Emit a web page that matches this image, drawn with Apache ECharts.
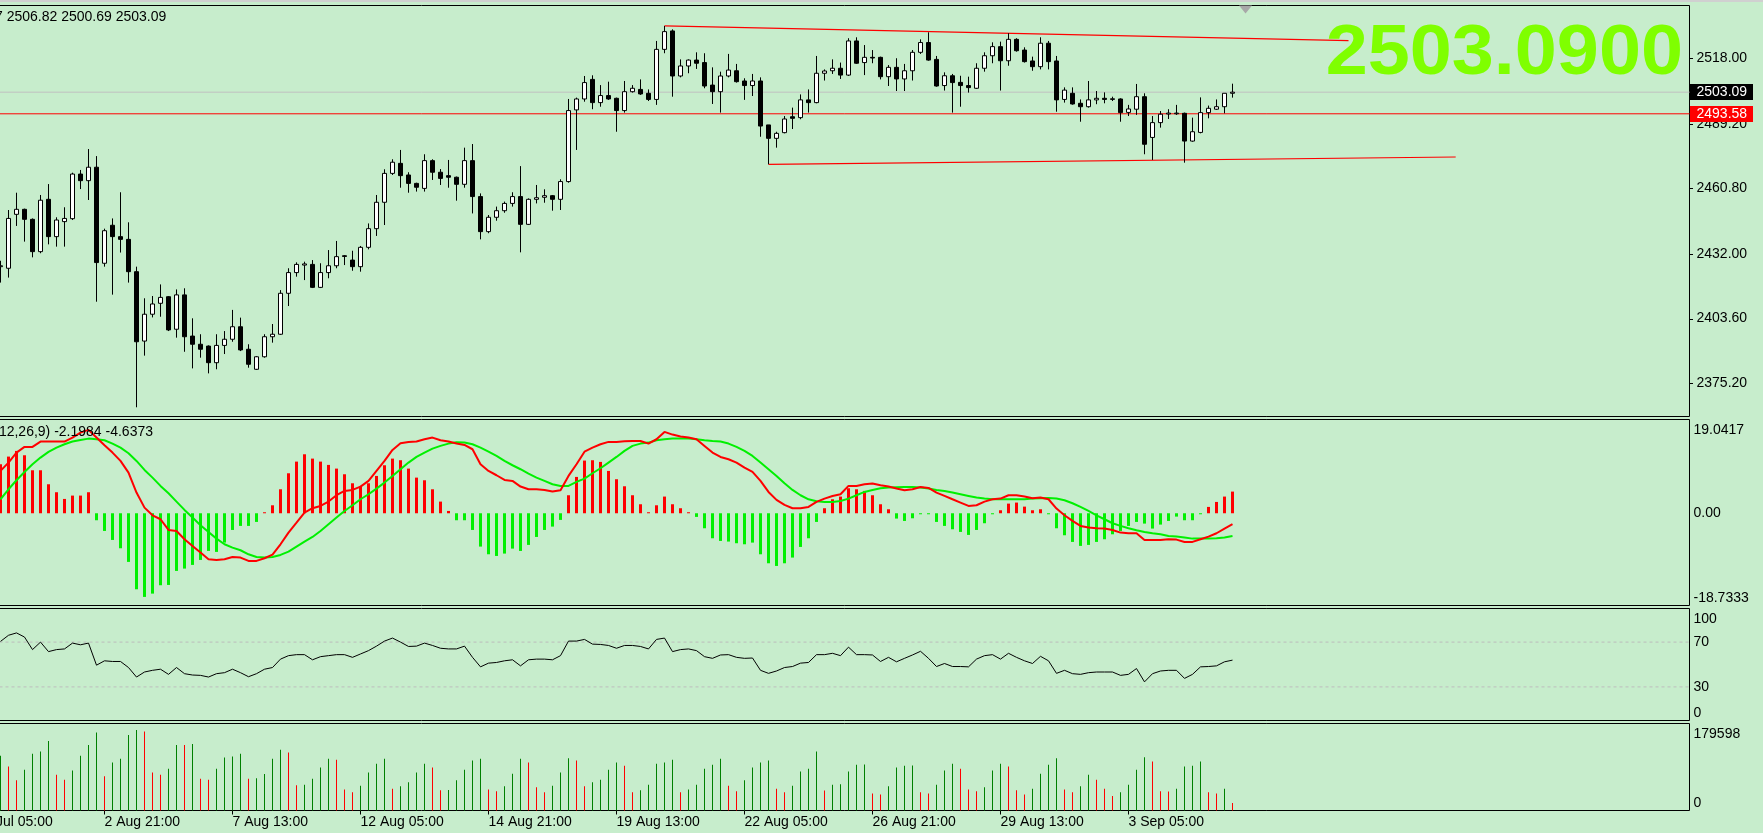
<!DOCTYPE html>
<html><head><meta charset="utf-8">
<script src="https://cdn.jsdelivr.net/npm/echarts@6.0.0/dist/echarts.min.js"></script>
<style>html,body{margin:0;padding:0;background:#C7EDCC;overflow:hidden}#c{width:1763px;height:833px}</style>
</head><body><div id="c"></div>
<script>
// ---------- DATA ----------
const opens = [2426.4,2425.7,2449.4,2451.6,2447.2,2433.0,2456.0,2439.6,2446.2,2447.5,
2467.1,2464.2,2470.1,2427.9,2444.6,2439.6,2438.4,2424.2,2393.7,2405.5,
2410.3,2413.2,2398.9,2414.0,2395.9,2392.3,2391.5,2384.2,2391.8,2394.5,
2400.0,2390.1,2381.3,2386.8,2395.6,2396.7,2414.7,2423.8,2427.1,2427.4,
2417.3,2423.8,2426.8,2431.2,2429.3,2426.4,2434.9,2443.1,2454.7,2467.4,
2471.8,2466.7,2463.0,2460.8,2473.0,2467.9,2466.4,2465.7,2462.6,2473.0,
2457.2,2441.8,2448.1,2451.0,2454.2,2457.2,2445.0,2456.0,2456.9,2457.6,
2456.0,2463.8,2495.3,2500.1,2508.7,2498.5,2501.6,2500.4,2495.0,2503.3,
2504.3,2502.6,2499.9,2521.9,2530.0,2510.2,2514.6,2517.2,2516.1,2506.2,
2503.3,2510.2,2512.5,2508.0,2506.0,2508.0,2488.7,2482.8,2485.3,2492.3,
2491.9,2499.7,2498.5,2511.4,2512.5,2513.6,2510.6,2525.6,2516.1,2518.4,
2518.4,2509.9,2514.0,2508.9,2512.5,2520.6,2524.9,2517.5,2506.0,2510.3,
2507.4,2506.0,2504.8,2513.6,2519.1,2523.1,2516.9,2526.3,2521.6,2516.8,
2514.3,2524.6,2516.8,2499.9,2502.6,2498.2,2496.7,2499.7,2500.4,2499.9,
2500.1,2494.2,2495.6,2501.1,2483.2,2489.7,2493.5,2493.6,2493.8,2481.6,
2485.4,2494.1,2495.6,2496.7,2502.6];
const closes = [2426.8,2447.6,2451.6,2447.2,2433.0,2455.6,2439.6,2446.9,2447.6,2467.1,
2464.2,2470.1,2428.2,2442.2,2439.6,2438.4,2424.2,2393.4,2405.5,2410.0,
2412.9,2398.6,2414.0,2395.6,2392.3,2390.1,2384.2,2391.8,2394.5,2400.0,
2389.8,2383.5,2386.8,2395.6,2396.7,2414.7,2423.8,2427.4,2427.6,2417.3,
2423.8,2426.8,2430.8,2430.9,2426.4,2434.9,2443.1,2454.7,2467.4,2472.3,
2466.4,2463.0,2461.3,2473.0,2467.9,2465.2,2465.7,2462.6,2473.0,2457.2,
2441.8,2448.1,2451.0,2454.2,2457.2,2445.0,2456.0,2456.7,2457.6,2456.0,
2463.8,2495.0,2500.1,2507.3,2498.5,2501.6,2500.1,2495.0,2503.3,2504.8,
2502.3,2499.9,2521.9,2529.7,2510.2,2514.6,2517.2,2515.8,2505.8,2503.3,
2510.2,2512.8,2507.7,2506.0,2508.0,2488.2,2482.8,2485.0,2491.3,2491.6,
2499.7,2498.5,2511.4,2512.4,2513.6,2510.6,2525.6,2515.8,2518.4,2518.1,
2509.9,2514.0,2508.9,2512.5,2520.6,2524.9,2517.2,2505.8,2510.3,2507.3,
2506.0,2505.1,2513.6,2519.1,2523.1,2516.9,2526.3,2521.3,2516.5,2514.3,
2524.6,2516.5,2499.7,2504.0,2497.9,2496.7,2499.7,2500.4,2499.9,2500.2,
2494.1,2495.7,2501.1,2480.2,2489.7,2493.4,2493.9,2493.9,2481.6,2485.7,
2494.1,2496.0,2496.7,2502.6,2503.09];
const lows = [2419.4,2421.6,2444.3,2437.4,2430.5,2432.3,2436.2,2435.2,2435.2,2446.9,
2460.5,2455.7,2411.0,2426.4,2414.1,2432.6,2419.4,2364.6,2387.3,2404.1,
2404.4,2398.1,2395.2,2389.0,2381.7,2386.4,2379.5,2381.3,2388.0,2393.4,
2389.3,2382.0,2381.0,2386.4,2393.0,2396.4,2409.1,2422.0,2420.5,2417.0,
2417.0,2421.3,2425.7,2427.1,2424.6,2424.2,2434.0,2439.9,2444.7,2466.7,
2461.1,2458.9,2459.4,2459.4,2464.5,2462.3,2461.1,2455.4,2461.1,2449.8,
2438.4,2441.1,2446.6,2450.1,2452.8,2432.7,2444.7,2454.2,2454.5,2451.0,
2451.3,2463.3,2477.7,2498.9,2495.6,2496.7,2499.7,2485.7,2494.1,2502.9,
2501.9,2499.2,2497.5,2520.2,2501.1,2509.6,2511.4,2513.3,2504.8,2497.9,
2494.1,2509.6,2507.3,2499.7,2501.4,2483.5,2471.4,2478.7,2485.0,2486.9,
2491.2,2494.1,2498.2,2508.2,2511.1,2508.9,2510.2,2515.5,2510.6,2515.8,
2508.7,2505.8,2503.6,2503.6,2508.2,2519.9,2516.9,2505.5,2503.8,2494.1,
2496.7,2502.9,2504.5,2512.1,2515.8,2503.8,2514.7,2520.9,2516.1,2512.5,
2513.1,2513.1,2494.5,2498.5,2497.6,2490.1,2496.3,2497.8,2498.2,2499.2,
2490.1,2492.6,2493.1,2475.8,2473.3,2487.5,2491.3,2493.1,2472.1,2481.3,
2485.0,2491.6,2495.3,2493.8,2500.69];
const highs = [2429.0,2451.3,2458.9,2451.9,2447.6,2457.9,2462.7,2448.1,2452.5,2467.7,
2468.9,2478.1,2475.0,2443.1,2447.6,2459.1,2445.9,2426.4,2412.5,2413.5,
2418.6,2413.5,2416.4,2416.9,2403.7,2396.7,2391.8,2396.7,2398.1,2407.4,
2404.0,2392.3,2387.1,2396.7,2401.2,2416.1,2425.7,2428.3,2428.6,2429.3,
2427.9,2433.7,2437.7,2431.5,2433.4,2435.5,2445.4,2457.9,2469.2,2473.6,
2477.7,2467.9,2463.3,2475.8,2473.6,2469.3,2473.3,2466.0,2478.7,2480.3,
2458.6,2449.1,2452.8,2455.0,2459.1,2470.6,2456.4,2462.3,2460.4,2457.9,
2464.8,2500.1,2500.7,2510.2,2510.5,2506.2,2507.7,2500.7,2508.0,2506.2,
2508.7,2504.3,2525.6,2532.2,2530.7,2517.5,2517.5,2520.6,2520.2,2514.0,
2512.1,2519.9,2515.5,2509.2,2511.1,2509.6,2488.7,2485.7,2492.6,2496.3,
2502.1,2504.3,2519.0,2513.1,2517.5,2516.1,2526.8,2527.2,2523.8,2521.6,
2518.7,2515.0,2518.0,2515.5,2521.6,2526.3,2529.4,2519.0,2511.8,2511.1,
2510.3,2509.9,2515.8,2520.6,2525.0,2525.3,2529.0,2526.8,2522.8,2518.7,
2527.2,2525.6,2519.0,2505.2,2505.2,2499.9,2508.0,2503.6,2503.0,2501.1,
2500.4,2497.5,2506.7,2502.6,2492.6,2494.8,2495.6,2497.5,2494.1,2491.9,
2500.8,2497.2,2499.9,2502.6,2506.82];

const macdHist = [9.95,11.51,12.66,11.78,8.73,8.73,5.89,4.27,2.91,3.59,
3.59,4.27,-1.42,-3.59,-5.42,-7.11,-9.88,-15.44,-16.99,-16.32,
-14.62,-14.56,-11.71,-11.24,-10.49,-9.48,-7.65,-7.85,-5.96,-3.39,
-2.57,-2.57,-1.76,0.14,1.62,4.87,8.12,10.49,11.98,11.10,
10.49,9.82,9.07,7.92,6.09,5.55,6.09,7.58,9.75,11.10,
10.77,9.07,7.24,6.70,4.87,2.37,0.47,-1.42,-1.42,-3.39,
-6.77,-8.33,-8.67,-8.19,-7.18,-7.65,-6.43,-4.81,-3.39,-2.71,
-1.35,3.66,7.38,10.70,10.77,10.43,8.60,6.91,5.48,3.66,
1.83,0.10,1.62,3.39,1.83,1.02,0.10,-0.74,-3.05,-5.08,
-5.62,-5.75,-6.09,-6.30,-5.96,-8.33,-10.16,-10.70,-10.16,-9.00,
-6.84,-5.08,-1.76,1.02,2.84,3.39,5.08,4.87,4.54,3.66,
1.83,0.81,-1.08,-1.56,-1.02,-0.10,-0.10,-1.76,-2.57,-3.25,
-3.79,-4.40,-3.39,-2.03,-0.10,0.61,1.96,2.17,1.35,0.61,
0.81,-0.10,-3.05,-4.47,-5.82,-6.63,-6.43,-5.82,-5.28,-4.27,
-3.59,-2.57,-1.76,-2.10,-3.11,-2.30,-1.56,-0.68,-1.42,-1.42,
-0.10,1.29,2.30,3.39,4.40];
const macdMain = [8.60,10.29,12.32,13.47,13.47,14.56,14.56,14.56,14.56,15.37,
16.38,16.93,15.37,13.81,12.32,10.63,8.26,4.20,1.15,-0.41,
-1.22,-3.39,-3.59,-5.28,-6.63,-7.99,-9.34,-9.48,-9.34,-8.87,
-9.00,-9.68,-9.68,-9.14,-8.39,-6.30,-3.93,-1.90,0.14,1.02,
1.49,2.37,3.66,4.54,4.74,5.42,6.57,8.60,10.63,12.86,
14.22,14.49,14.56,15.03,15.37,14.83,14.56,14.15,13.88,13.00,
9.95,8.60,7.72,6.77,6.57,5.42,4.87,4.87,4.74,4.40,
4.67,7.58,9.95,12.50,13.34,14.01,14.49,14.49,14.62,14.69,
14.69,14.15,15.03,16.52,15.98,15.57,15.37,15.03,13.68,12.32,
11.44,10.97,10.29,9.27,8.39,6.57,4.33,2.71,1.69,1.02,
1.02,1.29,2.30,2.98,3.52,3.86,5.55,5.55,5.89,6.03,
5.69,5.42,5.01,4.67,4.87,5.35,5.15,4.20,3.52,2.84,
2.17,1.49,1.62,2.37,2.84,2.98,3.66,3.66,3.39,3.05,
3.18,2.84,0.95,-0.41,-1.56,-2.57,-2.91,-3.05,-3.11,-3.39,
-3.93,-4.06,-4.06,-5.42,-5.42,-5.42,-5.28,-5.35,-5.82,-5.82,
-5.28,-4.74,-4.06,-3.11,-2.1984];
const macdSignal = [2.84,4.87,6.70,8.39,9.95,11.31,12.46,13.34,14.01,14.56,
14.89,15.16,15.03,14.83,14.15,13.34,12.19,10.63,8.80,7.24,
5.55,4.06,2.37,0.68,-0.88,-2.44,-3.79,-5.15,-6.30,-6.97,
-7.51,-8.33,-8.87,-9.00,-8.87,-8.46,-7.79,-6.77,-5.75,-4.81,
-3.59,-2.23,-0.88,0.47,1.62,2.84,3.86,5.01,6.23,7.58,
8.94,10.29,11.44,12.32,13.13,13.68,14.15,14.42,14.35,14.01,
13.34,12.52,11.64,10.63,9.75,8.94,8.06,7.24,6.57,5.89,
5.55,5.55,6.36,7.04,8.12,9.14,10.29,11.44,12.66,13.68,
14.15,14.35,14.83,15.03,15.16,15.16,15.16,15.03,14.83,14.69,
14.56,14.15,13.47,12.66,11.64,10.29,8.94,7.58,6.09,4.74,
3.66,2.84,2.44,2.30,2.30,2.50,2.98,3.66,4.33,4.74,
5.08,5.21,5.28,5.35,5.35,5.21,5.01,4.74,4.54,4.20,
3.86,3.52,3.18,2.98,2.84,2.84,2.84,2.84,2.84,2.98,
3.05,3.11,2.98,2.64,2.03,1.29,0.47,-0.41,-1.22,-2.03,
-2.57,-3.05,-3.45,-3.79,-4.06,-4.27,-4.60,-4.74,-4.94,-5.15,
-5.15,-5.15,-5.08,-4.94,-4.6373];
const rsi = [70.6,76.1,78.2,74.5,63.3,70.0,61.5,63.3,63.9,69.1,
67.6,69.1,49.4,53.3,52.7,52.7,47.3,38.8,43.3,44.8,
45.8,41.2,47.3,41.8,40.6,40.3,38.8,41.8,42.7,45.8,
42.7,39.1,41.8,45.8,47.3,54.8,57.9,58.8,58.8,54.2,
57.0,57.9,58.8,58.8,56.4,59.4,62.4,66.4,70.9,73.6,
70.0,66.1,66.4,69.1,67.0,64.5,63.9,63.9,66.4,56.4,
47.9,51.2,51.8,53.3,54.2,48.8,54.2,54.8,54.8,54.2,
57.9,70.9,70.9,72.4,68.2,67.9,67.0,64.5,67.0,67.0,
66.1,63.9,72.4,73.6,61.5,63.3,63.9,62.4,57.0,55.5,
58.5,58.8,56.4,55.5,55.8,44.8,42.1,44.2,47.3,48.2,
51.2,51.8,58.8,58.8,60.0,57.9,65.5,58.8,58.8,58.5,
52.7,56.4,52.4,55.5,58.5,61.8,55.5,48.2,50.9,48.2,
48.2,47.9,54.8,57.9,58.8,54.8,60.0,56.4,53.3,50.9,
57.3,53.3,42.1,44.8,41.8,41.2,42.7,43.3,43.3,43.3,
40.3,41.2,46.4,34.5,41.8,44.2,44.8,44.8,37.6,41.2,
47.9,48.2,48.8,52.4,53.9];
const volumes = [112893,91000,62262,84157,117000,121788,143682,73894,63631,82788,
112893,135472,160787,70473,99209,106735,155998,166261,162840,78683,
73894,86209,135472,135000,137524,65683,63631,86209,109472,111525,
117000,65683,66500,75262,106735,125209,119735,52000,53368,65683,
88946,106735,104683,43105,37631,51315,78683,96472,106735,45157,
49947,58157,78683,96472,88946,41736,42500,62262,84157,103314,
106735,43105,39684,49947,75946,106735,99209,47894,37631,51315,
78683,108104,103314,49947,58157,63631,84157,99209,92367,37631,
41736,53368,96472,99209,104683,37631,43105,53368,86209,94420,
106735,51315,39684,62262,88946,99209,103314,45157,37631,51315,
80736,86209,121788,41052,53368,54000,80736,94420,95000,34894,
32842,49947,88946,92367,93000,37631,34894,53368,82788,96472,
86209,43105,39684,47894,82788,96472,91000,41736,32842,45157,
75946,94420,108104,43105,37631,49947,73894,63631,45157,30000,
37631,53368,84157,110156,101262,39684,39000,45157,91000,92367,
101262,37631,34894,45157,15737];

const xTickIdx = [-3, 13, 29, 45, 61, 77, 93, 109, 125, 141];
const xTickLabels = ['31 Jul 05:00','2 Aug 21:00','7 Aug 13:00','12 Aug 05:00','14 Aug 21:00',
  '19 Aug 13:00','22 Aug 05:00','26 Aug 21:00','29 Aug 13:00','3 Sep 05:00'];
const priceTicks = [2375.20, 2403.60, 2432.00, 2460.80, 2489.20, 2518.00];
const macdTicks = [-18.7333, 0, 19.0417];
const rsiTicks = [0, 30, 70, 100];
const rsiLevels = [30, 70];
const volTicks = [0, 179598];
const bidPrice = 2503.09;
const levelPrice = 2493.58;
const upperLine = [[83, 2532.2], [168.5, 2525.7]];
const lowerLine = [[96, 2471.4], [181.9, 2474.6]];
const headerText = '7 2506.82 2500.69 2503.09';
const macdHeader = 'MACD(12,26,9) -2.1984 -4.6373';

// ---------- CHART ----------
const FONT = '"Liberation Sans", Arial, sans-serif';
const N = opens.length;
const idx = opens.map((_, i) => i);
const XMIN = -3.125, XMAX = 211.125;
const GL = -24.5, GW = 1714;
const panes = [
  {top: 5.5, height: 411},
  {top: 419.5, height: 186},
  {top: 608.5, height: 112},
  {top: 723.5, height: 87}
];
const chart = echarts.init(document.getElementById('c'), null, {renderer: 'canvas', width: 1763, height: 833});

const lbl = {color: '#000', fontSize: 14, fontFamily: FONT};
const grid = panes.map(p => ({left: GL, top: p.top, width: GW, height: p.height, show: true,
  borderColor: '#000', borderWidth: 1, backgroundColor: 'transparent', containLabel: false, outerBoundsMode: 'none'}));
const xAxis = panes.map((p, i) => ({
  type: 'value', gridIndex: i, min: XMIN, max: XMAX, show: i === 3,
  axisLine: {show: false, onZero: false}, splitLine: {show: false},
  axisTick: {show: i === 3, customValues: xTickIdx, length: 4, lineStyle: {color: '#000'}},
  axisLabel: Object.assign({show: i === 3, customValues: xTickIdx, align: 'left', margin: 5,
    formatter: v => xTickLabels[xTickIdx.indexOf(v)] || ''}, lbl)
}));
const yb = (gi, min, max, ticks, fmt, margin) => ({
  type: 'value', gridIndex: gi, position: 'right', min, max,
  splitLine: {show: false}, axisLine: {show: false, onZero: false},
  axisTick: {show: false},
  axisLabel: Object.assign({customValues: ticks, margin,
    formatter: v => (gi > 0 && v === max) ? '{t|' + fmt(v) + '}' : fmt(v),
    rich: {t: {padding: [4, 0, 0, 0], fontSize: 14, fontFamily: FONT, color: '#000'}},
    verticalAlignMinLabel: gi === 0 ? 'middle' : 'bottom', verticalAlignMaxLabel: gi === 0 ? 'middle' : 'top',
    showMinLabel: true, showMaxLabel: true}, lbl)
});
const yAxis = [
  yb(0, 2360.55, 2541.18, priceTicks, v => v.toFixed(2), 7),
  yb(1, macdTicks[0], macdTicks[2], macdTicks, v => v === 0 ? '0.00' : v.toFixed(4), 4),
  yb(2, 0, 100, rsiTicks, v => String(v), 4),
  yb(3, 0, volTicks[1], volTicks, v => String(v), 4)
];

const hline = (xi, yi, v, color, width, type, z) => ({
  type: 'line', xAxisIndex: xi, yAxisIndex: yi, data: [[XMIN, v], [XMAX, v]], symbol: 'none',
  silent: true, lineStyle: {color, width, type: type || 'solid'}, z: z || 2
});

const series = [
  hline(0, 0, bidPrice, '#C0C0C0', 1, null, 1),
  hline(0, 0, levelPrice, '#FF0000', 1, null, 2),
  {type: 'line', xAxisIndex: 0, yAxisIndex: 0, data: upperLine, symbol: 'none', silent: true,
    lineStyle: {color: '#FF0000', width: 1.2}, z: 2},
  {type: 'line', xAxisIndex: 0, yAxisIndex: 0, data: lowerLine, symbol: 'none', silent: true,
    lineStyle: {color: '#FF0000', width: 1.2}, z: 2},
  {type: 'candlestick', xAxisIndex: 0, yAxisIndex: 0,
    data: idx.map(i => [i, opens[i], closes[i], lows[i], highs[i]]),
    encode: {x: 0, y: [1, 2, 3, 4]}, barWidth: 5,
    itemStyle: {color: '#FFFFFF', color0: '#000000', borderColor: '#000000', borderColor0: '#000000',
      borderColorDoji: '#000000', borderWidth: 1}, z: 5},
  {type: 'bar', xAxisIndex: 1, yAxisIndex: 1, data: idx.map(i => [i, macdHist[i]]), barWidth: 3, barMinHeight: 1,
    itemStyle: {color: p => p.value[1] >= 0 ? '#FF0000' : '#00F000'}, z: 2},
  {type: 'line', xAxisIndex: 1, yAxisIndex: 1, data: idx.map(i => [i, macdSignal[i]]), symbol: 'none',
    lineStyle: {color: '#00F000', width: 2}, z: 3},
  {type: 'line', xAxisIndex: 1, yAxisIndex: 1, data: idx.map(i => [i, macdMain[i]]), symbol: 'none',
    lineStyle: {color: '#FF0000', width: 2}, z: 4},
  hline(2, 2, rsiLevels[0], '#BDBDBD', 1, [3, 3], 1),
  hline(2, 2, rsiLevels[1], '#BDBDBD', 1, [3, 3], 1),
  {type: 'line', xAxisIndex: 2, yAxisIndex: 2, data: idx.map(i => [i, rsi[i]]), symbol: 'none',
    lineStyle: {color: '#000000', width: 1}, z: 3},
  {type: 'bar', xAxisIndex: 3, yAxisIndex: 3, data: idx.map(i => [i, volumes[i]]), barWidth: 1,
    itemStyle: {color: p => (p.dataIndex === 0 || volumes[p.dataIndex] > volumes[p.dataIndex - 1]) ? '#008000' : '#FF0000'}, z: 2}
];

chart.setOption({animation: false, backgroundColor: '#C7EDCC', grid, xAxis, yAxis, series});

const yBid = chart.convertToPixel({yAxisIndex: 0}, bidPrice);
const yLvl = chart.convertToPixel({yAxisIndex: 0}, levelPrice);
const txt = (x, y, text, font, fill, align, extra) => Object.assign({type: 'text', x, y, z: 100, silent: true,
  style: {text, font, fill, align: align || 'left', textAlign: align || 'left', verticalAlign: 'middle', textVerticalAlign: 'middle'}}, extra || {});
const box = (y, fill, text) => [
  {type: 'rect', z: 99, silent: true, shape: {x: 1690, y: Math.round(y) - 8, width: 63, height: 16}, style: {fill}},
  txt(1696.5, Math.round(y), text, '14px ' + FONT, '#FFFFFF')
];
const priceTickMarks = priceTicks.map(p => {
  const y = Math.round(chart.convertToPixel({yAxisIndex: 0}, p)) + 0.5;
  return {type: 'line', z: 98, silent: true, shape: {x1: 1690, y1: y, x2: 1693, y2: y}, style: {stroke: '#000', lineWidth: 1}};
});
chart.setOption({graphic: [
  {type: 'rect', z: 100, silent: true, shape: {x: 0, y: 0, width: 1763, height: 2}, style: {fill: '#D0D0D0'}},
  txt(-5, 17, headerText, '14px ' + FONT, '#000'),
  txt(-47, 432, macdHeader, '14px ' + FONT, '#000'),
  txt(1683, 54.5, closes[N - 1].toFixed(4), 'bold 70px ' + FONT, '#7FFF00', 'right', {scaleX: 1.08}),
  {type: 'polygon', z: 100, silent: true, shape: {points: [[1239, 5.5], [1252, 5.5], [1245.5, 13.5]]}, style: {fill: '#A8A8A8'}},
  ...priceTickMarks,
  ...box(yBid, '#000000', bidPrice.toFixed(2)),
  ...box(yLvl, '#FF0000', levelPrice.toFixed(2))
]});
</script></body></html>
